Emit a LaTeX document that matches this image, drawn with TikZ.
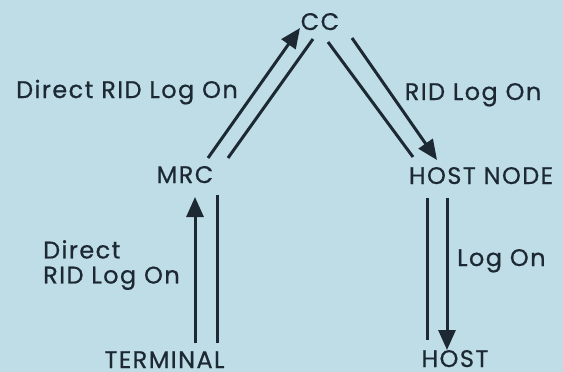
\documentclass[tikz,border=0pt]{standalone}
\usepackage{fontspec}
\setmainfont{Poppins}[LetterSpace=6, FakeBold=0.6]
\usepackage{xcolor}
\usepackage{tikz}
\usetikzlibrary{arrows.meta}
\usetikzlibrary{calc}
\definecolor{bgblue}{RGB}{191,221,231}
\definecolor{ink}{RGB}{28,40,50}
\tikzstyle{place}=[inner sep=0pt, anchor=base, text=ink]
\tikzstyle{note}=[inner sep=0pt, anchor=base west, text=ink, align=left]
\tikzstyle{link}=[draw=ink, line width=3pt]

\begin{document}
\begin{tikzpicture}[x=1pt, y=-1pt]

\tikzset{>={Triangle[length=20pt, width=17pt]}}
\tikzset{every node/.style={font=\fontsize{24pt}{25pt}\selectfont}}

% Background
\fill[bgblue] (0,0) rectangle (563,372);
\useasboundingbox (0,0) rectangle (563,372);

% Stations
\node[place] (cc) at (320,30) {CC};
\node[place] (mrc) at (185,183) {MRC};
\node[place] (hostnode) at (481,184) {HOST NODE};
\node[place] (terminal) at (164.5,368) {TERMINAL};
\node[place] (host) at (455,367) {HOST};

% Labels
\node[place] (lbl-mrc) at (127,98) {Direct RID Log On};
\node[place] (lbl-cc) at (473,100) {RID Log On};
\node[note, anchor=north west] (lbl-term) at (43,240) {Direct\\RID Log On};
\node[note] (lbl-host) at (457,266) {Log On};

\draw[link, ->] ($(mrc.base)+(23,-25)$) -- ($(cc.base)+(-20,-2)$); % mrc -> cc
\draw[link] ($(mrc.base)+(43,-25)$) -- ($(cc.base)+(-7,9)$);
\draw[link] ($(cc.base)+(8,12)$) -- ($(hostnode.base)+(-68,-27)$);
\draw[link, ->] ($(cc.base)+(32,8)$) -- ($(hostnode.base)+(-44,-24)$); % cc -> host node
\draw[link, ->] ($(terminal.base)+(30.5,-25)$) -- ($(mrc.base)+(10,14)$); % terminal -> mrc
\draw[link] ($(terminal.base)+(52.5,-25)$) -- ($(mrc.base)+(32,12)$);
\draw[link] ($(hostnode.base)+(-54,14)$) -- ($(host.base)+(-28,-27)$);
\draw[link, ->] ($(hostnode.base)+(-34,14)$) -- ($(host.base)+(-8,-17)$); % host node -> host

\end{tikzpicture}
\end{document}
